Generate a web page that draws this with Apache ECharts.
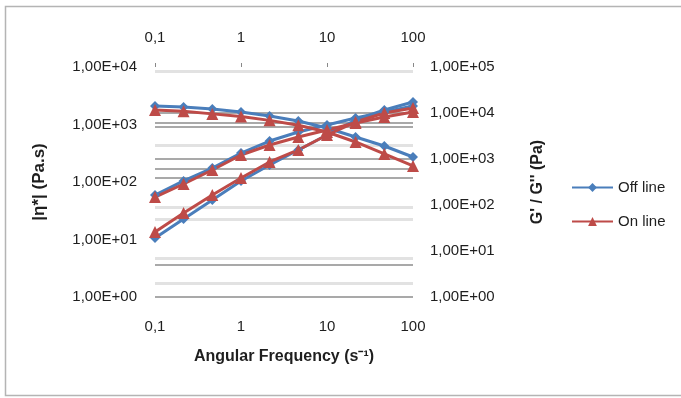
<!DOCTYPE html>
<html>
<head>
<meta charset="utf-8">
<script src="https://cdn.jsdelivr.net/npm/echarts@6/dist/echarts.min.js"></script>
<style>
html,body{margin:0;padding:0;background:#fff;}
#chart{width:681px;height:398px;}
</style>
</head>
<body>
<div id="chart"></div>
<script>
// Angular frequency (s^-1)
const freq = [0.1, 0.215, 0.464, 1, 2.15, 4.64, 10, 21.5, 46.4, 100];
// |eta*| (Pa.s) - left axis
const etaOff = [2100, 2015, 1862, 1650, 1406, 1151, 869, 606, 423, 272];
const etaOn  = [1780, 1700, 1530, 1380, 1180, 970, 741, 497, 307, 190];
// G'' (Pa) - right axis
const gTwoOff = [165, 333, 637, 1349, 2460, 3864, 5483, 7786, 10520, 14190];
const gTwoOn  = [149, 286, 577, 1222, 2015, 3006, 4266, 6067, 8185, 10520];
// G' (Pa) - right axis
const gOneOff = [19.2, 49.7, 128.5, 333, 741, 1570, 3326, 7046, 11610, 17350];
const gOneOn  = [25.9, 67, 165, 386, 861, 1570, 3326, 6368, 10000, 12850];

const seriesNames = ['Off line', 'On line'];
const xTickLabels = ['0,1', '1', '10', '100'];
const leftTickLabels = ['1,00E+00', '1,00E+01', '1,00E+02', '1,00E+03', '1,00E+04'];
const rightTickLabels = ['1,00E+00', '1,00E+01', '1,00E+02', '1,00E+03', '1,00E+04', '1,00E+05'];
// horizontal gridlines on the right (G'/G'') axis, as they show in the picture
const gridDark = [1, 5, 400, 600, 1000, 5000, 6000, 10000];
const gridLight = [2, 7, 50, 90, 2000, 80000];

const BLUE = '#4A7EBB', RED = '#BE4B48';
const FONT = 'Liberation Sans';
const TXT = '#1e1e1e';
const lg = v => Math.round(Math.log10(v));

function pairs(ys) { return freq.map((x, i) => [x, ys[i]]); }

function gridSeries(vals, color, width) {
  return {
    name: 'grid', type: 'line', yAxisIndex: 1, data: [], silent: true, z: 1,
    markLine: {
      silent: true, z: 1, symbol: ['none', 'none'], label: { show: false }, animation: false,
      lineStyle: { color: color, type: 'solid', width: width },
      data: vals.map(v => ({ yAxis: v }))
    }
  };
}

function mk(name, ys, yIdx, color, symbol, size) {
  return {
    name: name, type: 'line', yAxisIndex: yIdx, data: pairs(ys),
    symbol: symbol, symbolSize: size, showSymbol: true,
    lineStyle: { color: color, width: 3 },
    itemStyle: { color: color },
    z: 3
  };
}

const chart = echarts.init(document.getElementById('chart'), null, { renderer: 'canvas' });
chart.setOption({
  animation: false,
  backgroundColor: '#fff',
  textStyle: { fontFamily: FONT },
  graphic: [{
    type: 'rect', shape: { x: 5.5, y: 6.5, width: 700, height: 389 },
    style: { fill: 'none', stroke: '#b4b4b4', lineWidth: 1.5 }, silent: true, z: -1
  }],
  grid: { left: 155, right: 268, top: 67, bottom: 101 },
  legend: {
    data: seriesNames, orient: 'vertical', left: 566, top: 175,
    itemWidth: 41, itemHeight: 11, itemGap: 19,
    textStyle: { fontSize: 15, color: TXT, fontFamily: FONT }
  },
  xAxis: [{
    type: 'log', logBase: 10, min: 0.1, max: 100, position: 'bottom',
    name: 'Angular Frequency (s\u207B\u00B9)', nameLocation: 'middle', nameGap: 52,
    nameTextStyle: { fontSize: 16, fontWeight: 'bold', color: TXT },
    axisLine: { show: false }, axisTick: { show: false },
    axisLabel: { margin: 22, fontSize: 15, color: TXT, formatter: v => xTickLabels[lg(v) + 1] },
    splitLine: { show: false }
  }, {
    type: 'log', logBase: 10, min: 0.1, max: 100, position: 'top',
    axisLine: { show: false },
    axisTick: { show: true, length: 4, lineStyle: { color: '#888' } },
    axisLabel: { margin: 22, fontSize: 15, color: TXT, formatter: v => xTickLabels[lg(v) + 1] },
    splitLine: { show: false }
  }],
  yAxis: [{
    type: 'log', logBase: 10, min: 1, max: 10000, position: 'left',
    name: '|\u03B7*| (Pa.s)', nameLocation: 'middle', nameGap: 107, nameRotate: 90,
    nameTextStyle: { fontSize: 17, fontWeight: 'bold', color: TXT },
    axisLine: { show: false }, axisTick: { show: false },
    axisLabel: { margin: 18, fontSize: 15, color: TXT, formatter: v => leftTickLabels[lg(v)] },
    splitLine: { show: false }
  }, {
    type: 'log', logBase: 10, min: 1, max: 100000, position: 'right',
    name: "G' / G'' (Pa)", nameLocation: 'middle', nameGap: 117, nameRotate: 90,
    nameTextStyle: { fontSize: 16, fontWeight: 'bold', color: TXT },
    axisLine: { show: false }, axisTick: { show: false },
    axisLabel: { margin: 17, fontSize: 15, color: TXT, formatter: v => rightTickLabels[lg(v)] },
    splitLine: { show: false }
  }],
  series: [
    gridSeries(gridLight, '#e2e2e2', 3),
    gridSeries(gridDark, '#a9a9a9', 2),
    mk(seriesNames[0], etaOff, 0, BLUE, 'diamond', 10),
    mk(seriesNames[0], gTwoOff, 1, BLUE, 'diamond', 10),
    mk(seriesNames[0], gOneOff, 1, BLUE, 'diamond', 10),
    mk(seriesNames[1], etaOn, 0, RED, 'triangle', 12),
    mk(seriesNames[1], gTwoOn, 1, RED, 'triangle', 12),
    mk(seriesNames[1], gOneOn, 1, RED, 'triangle', 12)
  ]
});
</script>
</body>
</html>
